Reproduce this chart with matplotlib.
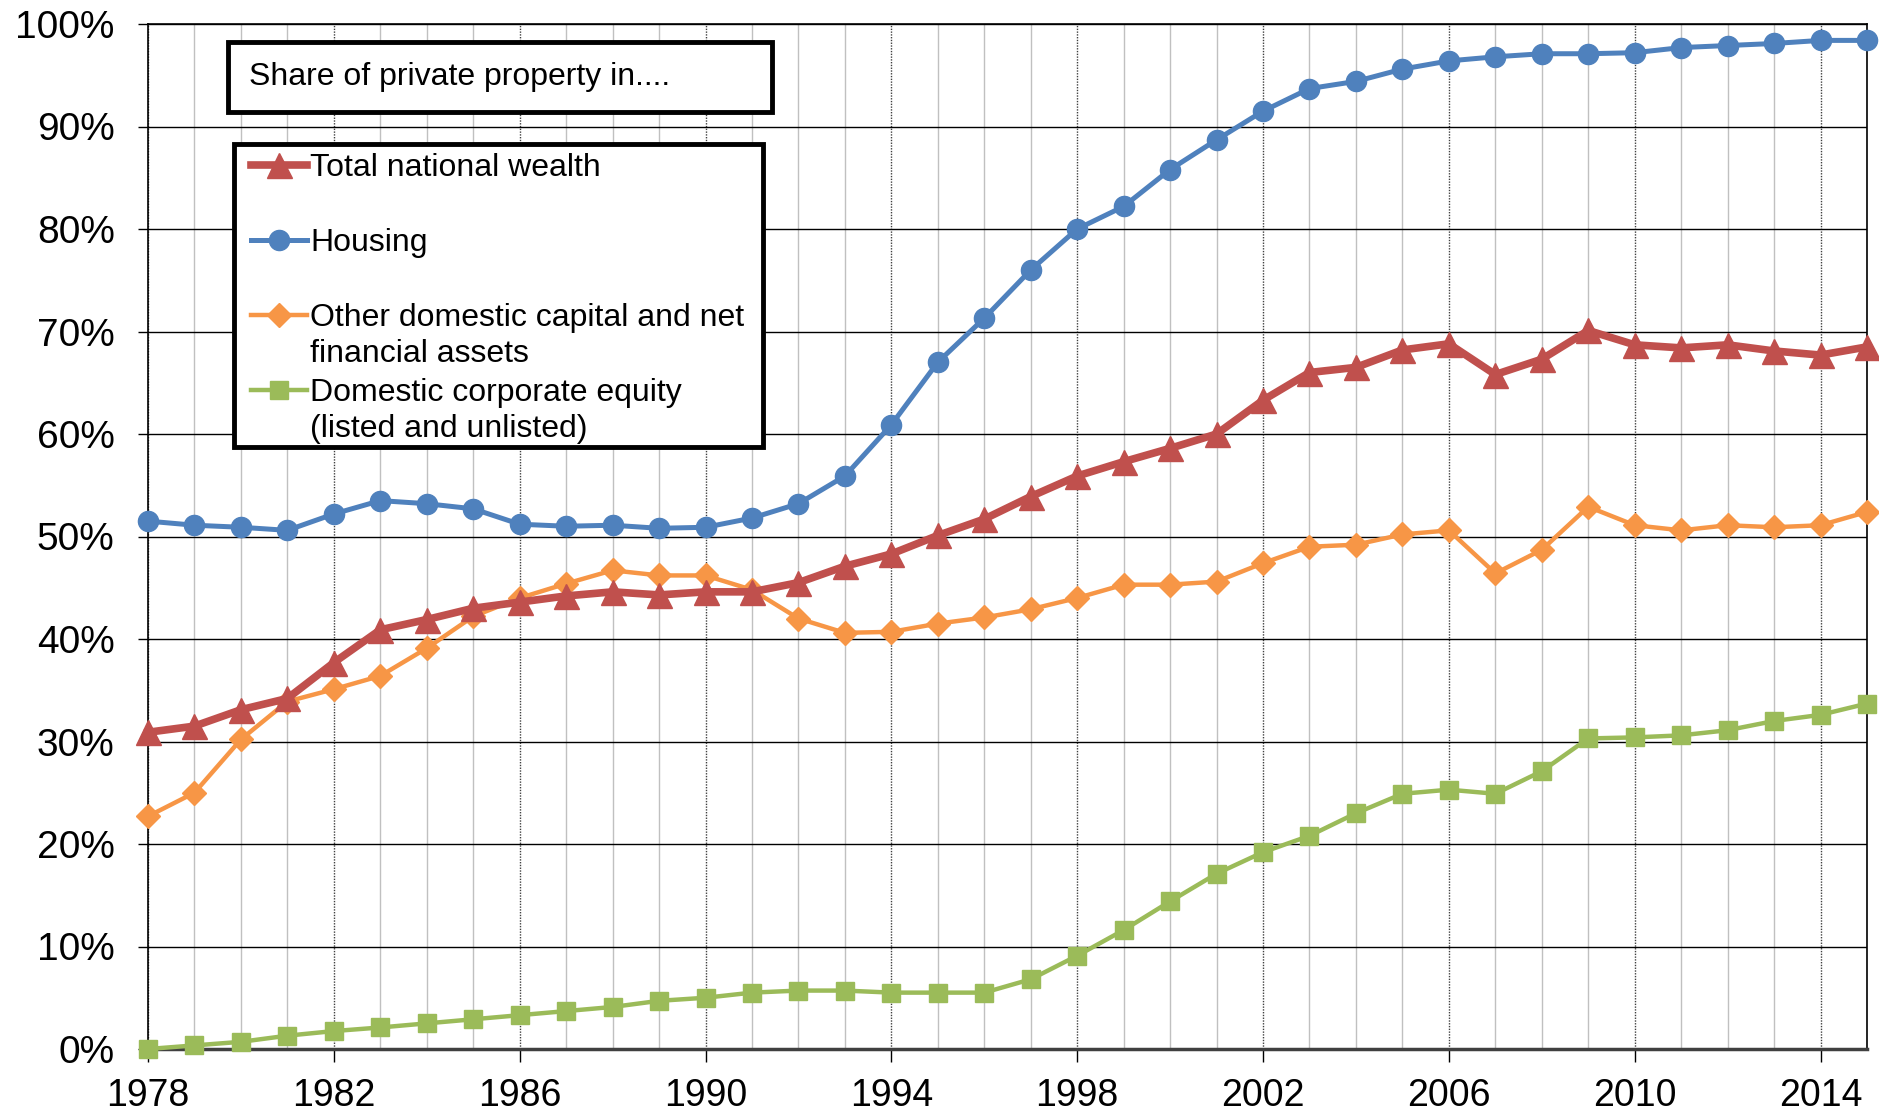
import matplotlib
matplotlib.use("Agg")
import matplotlib.pyplot as plt
from matplotlib.lines import Line2D
from matplotlib.patches import Rectangle
from matplotlib.ticker import MultipleLocator, FixedLocator, FuncFormatter

plt.rcParams['font.family'] = ['Liberation Sans', 'DejaVu Sans']

years = list(range(1978, 2016))
tick_years = list(range(1978, 2016, 4))

total_wealth = [30.9, 31.5, 33.1, 34.2, 37.7, 40.9, 41.9, 43.0, 43.6, 44.2,
                44.6, 44.3, 44.6, 44.6, 45.5, 47.1, 48.3, 50.1, 51.7, 53.9,
                55.9, 57.3, 58.6, 60.0, 63.3, 66.0, 66.5, 68.2, 68.8, 65.8,
                67.3, 70.1, 68.7, 68.4, 68.7, 68.1, 67.7, 68.5]

housing = [51.5, 51.1, 50.9, 50.6, 52.2, 53.5, 53.2, 52.7, 51.2, 51.0,
           51.1, 50.8, 50.9, 51.8, 53.2, 55.9, 60.9, 67.0, 71.3, 76.0,
           80.0, 82.2, 85.8, 88.7, 91.5, 93.7, 94.4, 95.6, 96.4, 96.8,
           97.1, 97.1, 97.2, 97.7, 97.9, 98.1, 98.4, 98.4]

other_capital = [22.7, 25.0, 30.2, 33.9, 35.1, 36.4, 39.1, 42.2, 44.0, 45.4,
                 46.7, 46.2, 46.2, 44.8, 42.0, 40.6, 40.7, 41.5, 42.1, 42.9,
                 44.0, 45.3, 45.3, 45.6, 47.4, 49.0, 49.2, 50.2, 50.6, 46.4,
                 48.7, 52.9, 51.1, 50.6, 51.1, 50.9, 51.1, 52.4]

corporate_equity = [0.0, 0.35, 0.7, 1.3, 1.75, 2.1, 2.5, 2.9, 3.3, 3.7,
                    4.1, 4.7, 5.0, 5.5, 5.7, 5.7, 5.5, 5.5, 5.5, 6.8,
                    9.1, 11.6, 14.4, 17.1, 19.2, 20.8, 23.0, 24.9, 25.3, 24.9,
                    27.1, 30.3, 30.4, 30.6, 31.1, 32.0, 32.6, 33.7]

RED = '#C0504D'
BLUE = '#4F81BD'
ORANGE = '#F79646'
GREEN = '#9BBB59'

W, H = 1879, 1116
fig = plt.figure(figsize=(W / 100, H / 100), dpi=100)
ax = fig.add_axes([148 / W, 1 - 1049 / H, (1867 - 148) / W, (1049 - 24) / H])

ax.set_xlim(1978, 2015)
ax.set_ylim(0, 100)

# grid: light minor every year, dotted major every 4 years, solid horizontal
ax.xaxis.set_major_locator(FixedLocator(tick_years))
ax.xaxis.set_minor_locator(MultipleLocator(1))
ax.yaxis.set_major_locator(MultipleLocator(10))
ax.grid(which='minor', axis='x', color='#c0c0c0', lw=1.0, ls='-')
ax.grid(which='major', axis='x', color='#404040', lw=1.0, ls=(0, (1, 1)))
ax.grid(which='major', axis='y', color='black', lw=1.0)
ax.set_axisbelow(True)

ax.yaxis.set_major_formatter(FuncFormatter(lambda v, p: f"{int(v)}%"))
ax.tick_params(axis='y', length=7, width=1, pad=17, labelsize=28)
ax.tick_params(axis='x', which='major', length=9, width=1, pad=12, labelsize=27)
ax.tick_params(axis='x', which='minor', length=0)

for s in ['top', 'right', 'left']:
    ax.spines[s].set_color('black')
    ax.spines[s].set_linewidth(1.2)
ax.spines['bottom'].set_color('#404040')
ax.spines['bottom'].set_linewidth(2.5)

ax.plot(years, other_capital, color=ORANGE, lw=3.2, marker='D', ms=12.5,
        clip_on=False, zorder=3)
ax.plot(years, corporate_equity, color=GREEN, lw=3.2, marker='s', ms=12.5,
        clip_on=False, zorder=3)
ax.plot(years, total_wealth, color=RED, lw=5.5, marker='^', ms=18,
        clip_on=False, zorder=4)
ax.plot(years, housing, color=BLUE, lw=3.6, marker='o', ms=14.5,
        clip_on=False, zorder=5)


def fx(px):
    return px / W


def fy(py):
    return 1 - py / H


# title box
fig.patches.append(Rectangle((fx(228), fy(112)), fx(772) - fx(228), fy(42) - fy(112),
                             transform=fig.transFigure, facecolor='white',
                             edgecolor='black', lw=3.5, zorder=10))
fig.text(fx(249), fy(77), "Share of private property in....", fontsize=23,
         va='center', ha='left', zorder=11)

# legend box
fig.patches.append(Rectangle((fx(234), fy(447)), fx(763) - fx(234), fy(144) - fy(447),
                             transform=fig.transFigure, facecolor='white',
                             edgecolor='black', lw=3.5, zorder=10))

entries = [
    (RED, 5.5, '^', 18, "Total national wealth", 165),
    (BLUE, 3.6, 'o', 14.5, "Housing", 240),
    (ORANGE, 3.2, 'D', 12.5, "Other domestic capital and net\nfinancial assets", 315),
    (GREEN, 3.2, 's', 12.5, "Domestic corporate equity\n(listed and unlisted)", 390),
]
for color, lw, mk, ms, label, py in entries:
    fig.lines.append(Line2D([fx(251), fx(307)], [fy(py), fy(py)], color=color,
                            lw=lw, transform=fig.transFigure, zorder=11))
    fig.lines.append(Line2D([fx(279)], [fy(py)], color=color, marker=mk, ms=ms,
                            transform=fig.transFigure, zorder=12))
    fig.text(fx(310), fy(py - 12), label, fontsize=23, va='top', ha='left',
             linespacing=1.27, zorder=12)

fig.savefig("out.png", dpi=100)
